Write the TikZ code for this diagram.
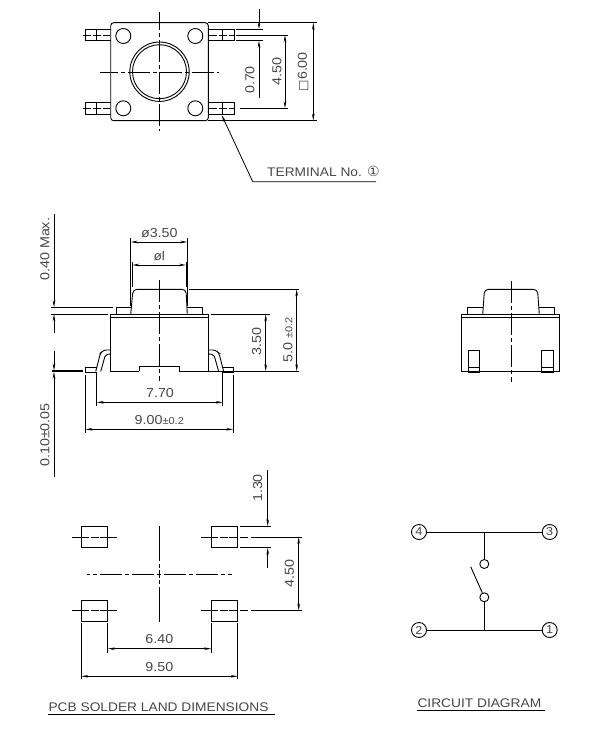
\documentclass[tikz,border=0pt]{standalone}
\usepackage{fontspec}
\setmainfont[FakeStretch=1.1]{Liberation Sans}
\newfontfamily\symfont{DejaVu Sans}
\usetikzlibrary{arrows.meta,positioning,calc}
\tikzset{
  part/.style={line width=0.9pt},
  cline/.style={line width=0.8pt,dash pattern=on 22pt off 3pt on 4pt off 3pt},
  padline/.style={line width=0.8pt,dash pattern=on 17pt off 1.5pt on 8pt off 1.5pt on 17pt off 99pt},
  extline/.style={line width=0.8pt},
  dimline/.style={line width=0.8pt,{Stealth[length=7pt,width=2.6pt]}-{Stealth[length=7pt,width=2.6pt]}},
  dimdown/.style={line width=0.8pt,-{Stealth[length=7pt,width=2.6pt]}},
  lbl/.style={text=black!72,font=\fontsize{13}{13}\selectfont,inner sep=0pt},
  vlbl/.style={lbl,rotate=90},
  ttl/.style={text=black!72,font=\fontsize{12.5}{13}\selectfont,inner sep=0pt},
  pin/.style={circle,draw,line width=0.9pt,minimum size=15pt,inner sep=0pt,text=black!72,font=\fontsize{11.5}{11.5}\selectfont},
  contact/.style={circle,draw,line width=0.9pt,minimum size=9pt,inner sep=0pt}
}
\begin{document}
\begin{tikzpicture}[x=1pt,y=-1pt]
\useasboundingbox (0,0) rectangle (608,730);
\draw[part,rounded corners=3pt] (110.7,22.7) rectangle (208.3,120.7);
\foreach \hx in {123.3,195.3} \foreach \hy in {36,108.3} \draw[part] (\hx,\hy) circle (7.5);
\draw[part] (159.5,71.7) circle (29.7);
\draw[part] (159.5,71.7) circle (27);
\draw[cline,dash phase=4pt] (159.3,12) -- (159.3,130.7);
\draw[cline,dash phase=4pt] (100,72) -- (219,72);
\foreach \ty/\tc in {29.3/35,102.7/108.3} {
  \draw[part] (110.7,\ty) -- ++(-25.4,0) -- ++(0,11.4) -- ++(25.4,0);
  \draw[part] (96,\ty) -- ++(0,11.4);
  \draw[cline,dash pattern=on 8pt off 2pt] (83,\tc) -- (110,\tc);
  \draw[part] (208.3,\ty) -- ++(25.7,0) -- ++(0,11.4) -- ++(-25.7,0);
  \draw[part] (222.7,\ty) -- ++(0,11.4);
  \draw[cline,dash pattern=on 8pt off 2pt] (209,\tc) -- (234,\tc);
}
\draw[extline] (208,22.7) -- (316.7,22.7);
\draw[extline] (208,120.7) -- (316.7,120.7);
\draw[dimline] (313.3,22.7) -- (313.3,120.7);
\node[vlbl] (lblsix) at (303,71.7) {{\symfont\fontsize{12}{12}\selectfont □}6.00};
\draw[extline] (236,35) -- (288,35);
\draw[extline] (240,108.3) -- (288,108.3);
\draw[dimline] (285,35) -- (285,108.3);
\node[vlbl] (lblfour) at (277,71.7) {4.50};
\draw[extline] (236,29.3) -- (262.7,29.3);
\draw[extline] (236,40.7) -- (262.7,40.7);
\draw[dimdown] (259,9.3) -- (259,29.3);
\draw[dimdown] (259,98.3) -- (259,40.7);
\node[vlbl] (lblpitch) at (250,80) {0.70};
\coordinate (leadtip) at (221.7,115);
\coordinate (leadknee) at (252.7,181.7);
\coordinate (leadend) at (376,181.7);
\draw[extline,{Stealth[length=7pt,width=2.6pt]}-] (leadtip) -- (leadknee) -- (leadend);
\node[ttl,anchor=base west] (lblterm) at (267,176.5) {TERMINAL No. {\symfont\fontsize{14}{14}\selectfont ①}};

\draw[part] (139.3,371.3) -- (110.7,371.3) -- (110.7,314.3) -- (208.7,314.3) -- (208.7,371.3) -- (179.3,371.3);
\draw[part] (110.7,317.3) -- (208.7,317.3);
\draw[part] (139.3,371.3) -- (139.3,366) -- (179.3,366) -- (179.3,371.3);
\draw[part] (116,314.3) -- (116,307.3) -- (130.7,307.3);
\draw[part] (187.3,307.3) -- (202.7,307.3) -- (202.7,314.3);
\draw[part,rounded corners=4pt] (130.7,314.3) -- (133,289.3) -- (186,289.3) -- (187.3,314.3);
\draw[cline] (159.3,280) -- (159.3,380.7);
\draw[part,rounded corners=2.5pt] (110.7,350) -- (104,350) -- (100.5,353) -- (95.7,371.5);
\draw[part,rounded corners=2pt] (110.7,354) -- (105.5,354.5) -- (100.7,371.5);
\draw[part] (97,367.3) -- (85.3,367.3) -- (85.3,372.5) -- (97,372.5);
\draw[part,rounded corners=2.5pt] (208.7,350) -- (215.4,350) -- (218.9,353) -- (223.7,371.5);
\draw[part,rounded corners=2pt] (208.7,354) -- (213.9,354.5) -- (218.7,371.5);
\draw[part] (222.4,367.3) -- (233.3,367.3) -- (233.3,372.5) -- (222.4,372.5);
\draw[extline] (130.7,238) -- (130.7,306);
\draw[extline] (187.3,238) -- (187.3,306);
\draw[dimline] (130.7,242) -- (187.3,242);
\node[lbl] (lblcap) at (159.3,232.7) {ø3.50};
\draw[extline] (132.3,261.7) -- (132.3,287);
\draw[extline] (186,261.7) -- (186,287);
\draw[dimline] (132.3,265) -- (186,265);
\node[lbl,font=\fontsize{12.5}{12.5}\selectfont] (lblstem) at (159.3,256) {øl};
\draw[extline] (189,289.3) -- (299.3,289.3);
\draw[extline] (208.7,371.3) -- (299.3,371.3);
\draw[dimline] (296.7,289.3) -- (296.7,371.3);
\node[vlbl] (lbltotal) at (288,340) {5.0 {\fontsize{10}{10}\selectfont ±0.2}};
\draw[extline] (210.7,314.3) -- (270,314.3);
\draw[dimline] (265.7,314.3) -- (265.7,371.3);
\node[vlbl] (lblbody) at (256.7,341.7) {3.50};
\draw[extline] (50.7,307.3) -- (112.7,307.3);
\draw[extline] (50.7,314.3) -- (107.5,314.3);
\draw[dimdown] (54,214) -- (54,307.3);
\draw[dimdown] (54,333.3) -- (54,314.3);
\node[vlbl] (lblmax) at (45,249.3) {0.40 Max.};
\draw[extline] (51.7,370.6) -- (83.3,370.6);
\draw[extline] (51.7,371.8) -- (83.3,371.8);
\draw[dimdown] (54,350.7) -- (54,370.6);
\draw[dimdown] (54,476.7) -- (54,371.8);
\node[vlbl] (lblfoot) at (45,435) {0.10±0.05};
\draw[extline] (96.7,372) -- (96.7,405.7);
\draw[extline] (222.7,372) -- (222.7,405.7);
\draw[dimline] (96.7,402.3) -- (222.7,402.3);
\node[lbl] (lblinner) at (160,393.3) {7.70};
\draw[extline] (85.3,375) -- (85.3,432.7);
\draw[extline] (233.3,375) -- (233.3,432.7);
\draw[dimline] (85.3,429.3) -- (233.3,429.3);
\node[lbl] (lblouter) at (159.3,420) {9.00{\fontsize{10}{10}\selectfont ±0.2}};

\draw[part] (461.7,314.3) rectangle (559.3,371.3);
\draw[part] (461.7,317.7) -- (559.3,317.7);
\draw[part] (467.7,314.3) -- (467.7,307.3) -- (482.7,307.3);
\draw[part] (539.3,307.3) -- (554.3,307.3) -- (554.3,314.3);
\draw[part,rounded corners=4pt] (482.7,314.3) -- (484.5,289.3) -- (537.5,289.3) -- (539.3,314.3);
\draw[cline] (511.3,281) -- (511.3,381.7);
\foreach \px in {468.3,541.8} {
  \draw[part] (\px,350.3) rectangle ++(11.6,22.4);
  \draw[part] (\px,367.3) -- ++(11.6,0);
}

\foreach \px in {81.3,211.3} \foreach \py in {526.3,600.3} \draw[part] (\px,\py) rectangle ++(26.4,21.2);
\foreach \py in {537,610.6} {
  \draw[padline] (72,\py) -- (117,\py);
}
\draw[padline,dash pattern=on 17pt off 1.5pt on 8pt off 1.5pt on 8pt off 3pt on 8pt off 3pt on 60pt off 9pt] (201,537) -- (302,537);
\draw[padline,dash pattern=on 17pt off 1.5pt on 8pt off 1.5pt on 8pt off 3pt on 8pt off 3pt on 60pt off 9pt] (201,610.6) -- (302,610.6);
\draw[cline,dash pattern=on 35pt off 3pt on 4pt off 2pt on 8pt off 2pt on 4pt off 3pt on 35pt off 9pt] (159.3,526) -- (159.3,622);
\draw[cline,dash phase=18.7pt] (87,574.3) -- (232,574.3);
\draw[extline] (240,526.3) -- (270.7,526.3);
\draw[extline] (240,547.7) -- (270.7,547.7);
\draw[dimdown] (267.7,470) -- (267.7,526.3);
\draw[dimdown] (267.7,567.7) -- (267.7,547.7);
\node[vlbl] (lblland) at (257.7,488) {1.30};
\draw[dimline] (298.7,537) -- (298.7,610.6);
\node[vlbl] (lblrow) at (289.3,573.3) {4.50};
\draw[extline] (107.7,623) -- (107.7,652.7);
\draw[extline] (211.3,623) -- (211.3,652.7);
\draw[dimline] (107.7,648.7) -- (211.3,648.7);
\node[lbl] (lblgap) at (159.3,639.3) {6.40};
\draw[extline] (81.3,623) -- (81.3,679.3);
\draw[extline] (237.7,623) -- (237.7,679.3);
\draw[dimline] (81.3,676.3) -- (237.7,676.3);
\node[lbl] (lblspan) at (159.3,667.3) {9.50};
\node[ttl,anchor=base west] (ttlpcb) at (48.3,711.5) {PCB SOLDER LAND DIMENSIONS};
\coordinate (ulpcba) at (48.3,714.3);
\coordinate (ulpcbb) at (275,714.3);
\draw[extline] (ulpcba) -- (ulpcbb);

\node[pin] (pinfour) at (419,532) {4};
\node[pin] (pinthree) at (549.7,532) {3};
\node[pin] (pintwo) at (419,630) {2};
\node[pin] (pinone) at (549.7,630) {1};
\node[contact] (contup) at (484.3,564) {};
\node[contact] (contlow) at (484.3,597.3) {};
\coordinate (jointup) at (484.3,532);
\coordinate (jointlow) at (484.3,630);
\coordinate (armend) at (470.7,566.7);
\draw[part] (pinfour) -- (pinthree);
\draw[part] (pintwo) -- (pinone);
\draw[part] (jointup) -- (contup);
\draw[part] (jointlow) -- (contlow);
\draw[part] (contlow) -- (armend);
\node[ttl,anchor=base west] (ttlckt) at (417.3,707.7) {CIRCUIT DIAGRAM};
\coordinate (ulckta) at (417.3,710.7);
\coordinate (ulcktb) at (544.7,710.7);
\draw[extline] (ulckta) -- (ulcktb);
\end{tikzpicture}
\end{document}
